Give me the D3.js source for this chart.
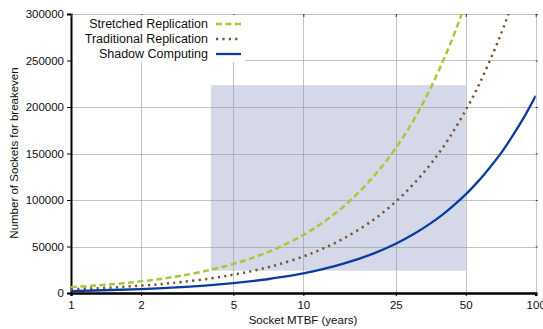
<!DOCTYPE html>
<html><head><meta charset="utf-8">
<script src="https://cdn.jsdelivr.net/npm/d3@7"></script>
<style>body{margin:0;background:#fff}svg{display:block;font-family:"Liberation Sans",Arial,sans-serif}</style>
</head><body><svg id="c" width="543" height="329"></svg>
<script>
const xTicks = [1, 2, 5, 10, 25, 50, 100];
const yTicks = [0, 50000, 100000, 150000, 200000, 250000, 300000];
const mtbf = [1, 1.5, 2, 2.5, 3, 4, 5, 6, 7, 8, 10, 12, 15, 20, 25, 30, 35, 40, 45, 50, 55, 60, 70, 80, 90, 100];
const shadowComputing = [2100, 3200, 4250, 5300, 6400, 8500, 10600, 12700, 14800, 17000, 21200, 25500, 31800, 42400, 53000, 63600, 74300, 84800, 95500, 106000, 116800, 127500, 148500, 170000, 191000, 212000];
const traditionalReplication = [3900, 5900, 7900, 9800, 11800, 15700, 19700, 23600, 27500, 31400, 39300, 47200, 59000, 78600, 98300, 118000, 137500, 157000, 177000, 196600, 216000, 236000, 275000, 314500, 354000, 393000];
const stretchedReplication = [6250, 9400, 12500, 15600, 18700, 25000, 31200, 37500, 43700, 50000, 62400, 75000, 93600, 125000, 156000, 187000, 218500, 250000, 281000, 312000, 343000, 374000, 437000, 500000, 562000, 624000];
const seriesNames = ["Stretched Replication", "Traditional Replication", "Shadow Computing"];
const shadedRegion = {x0: 4, x1: 50, y0: 24000, y1: 223500};

const svg = d3.select("#c");
const L = 71, R = 535.7, T = 14, B = 293;
const x = d3.scaleLog().domain([1, 100]).range([L, R]);
const y = d3.scaleLinear().domain([0, 300000]).range([B, T]);

svg.append("defs").append("clipPath").attr("id", "clip")
  .append("rect").attr("x", L).attr("y", T).attr("width", R - L).attr("height", B - T);

// shaded region
svg.append("rect")
  .attr("x", x(shadedRegion.x0)).attr("y", y(shadedRegion.y1))
  .attr("width", x(shadedRegion.x1) - x(shadedRegion.x0))
  .attr("height", y(shadedRegion.y0) - y(shadedRegion.y1))
  .attr("fill", "#d5d8e8");

// gridlines
const grid = svg.append("g").attr("stroke", "#999").attr("stroke-opacity", 0.6).attr("stroke-width", 1);
yTicks.filter(d => d > 0).forEach(d => grid.append("line").attr("x1", L).attr("x2", R).attr("y1", Math.round(y(d)) + 0.5).attr("y2", Math.round(y(d)) + 0.5));
xTicks.filter(d => d > 1).forEach(d => grid.append("line").attr("y1", T).attr("y2", B).attr("x1", Math.round(x(d)) + 0.5).attr("x2", Math.round(x(d)) + 0.5));

// axes
const yAxis = d3.axisLeft(y).tickValues(yTicks).tickFormat(d3.format("d")).tickSize(4).tickPadding(3);
const gy = svg.append("g").attr("transform", `translate(${L},0)`).call(yAxis);
gy.select(".domain").attr("stroke", "#000").attr("stroke-width", 2);
gy.selectAll("text").attr("font-size", "11.5px").attr("fill", "#111").style("font-family", "Liberation Sans, Arial, sans-serif");

const xAxis = d3.axisBottom(x).tickValues(xTicks).tickFormat(d3.format("d")).tickSize(3).tickPadding(5);
const gx = svg.append("g").attr("transform", `translate(0,${B})`).call(xAxis);
gx.select(".domain").attr("stroke", "#000").attr("stroke-width", 2.5);
gx.selectAll("text").attr("font-size", "11.5px").attr("fill", "#111").style("font-family", "Liberation Sans, Arial, sans-serif");

// top & right minor ticks
const gt = svg.append("g").attr("transform", `translate(0,${T})`).call(d3.axisTop(x).tickValues(xTicks).tickFormat("").tickSizeInner(-3).tickSizeOuter(0));
gt.select(".domain").remove();
gt.selectAll("line").attr("stroke", "#333");
const gr = svg.append("g").attr("transform", `translate(${R},0)`).call(d3.axisRight(y).tickValues(yTicks).tickFormat("").tickSizeInner(2).tickSizeOuter(0));
gr.select(".domain").remove();
gr.selectAll("line").attr("stroke", "#333");

// lines
const line = d3.line().x((d, i) => x(mtbf[i])).y(d => y(d)).curve(d3.curveCatmullRom.alpha(0.5));
const styles = [
  {data: stretchedReplication, color: "#a8c83a", dash: "6,3.5", width: 2.5},
  {data: traditionalReplication, color: "#7a5230", dash: "2.2,4.2", width: 2.5},
  {data: shadowComputing, color: "#0a3c9e", dash: null, width: 2.3}
];
const gl = svg.append("g").attr("clip-path", "url(#clip)");
styles.forEach(s => {
  gl.append("path").datum(s.data).attr("d", line).attr("fill", "none")
    .attr("stroke", s.color).attr("stroke-width", s.width)
    .attr("stroke-dasharray", s.dash);
});

// legend
const lg = svg.append("g");
lg.append("rect").attr("x", 73).attr("y", 15).attr("width", 172).attr("height", 47).attr("fill", "#fff");
seriesNames.forEach((n, i) => {
  const yy = 24 + i * 15;
  lg.append("text").attr("x", 208).attr("y", yy).attr("dy", "0.35em").attr("text-anchor", "end")
    .attr("font-size", "12.5px").attr("fill", "#111").text(n);
  lg.append("line").attr("x1", 216).attr("x2", 241).attr("y1", yy).attr("y2", yy)
    .attr("stroke", styles[i].color).attr("stroke-width", styles[i].width)
    .attr("stroke-dasharray", styles[i].dash);
});

// axis titles
svg.append("text").attr("x", 303).attr("y", 324).attr("text-anchor", "middle")
  .attr("font-size", "11.5px").attr("fill", "#111").text("Socket MTBF (years)");
svg.append("text").attr("transform", "translate(18,153) rotate(-90)").attr("text-anchor", "middle")
  .attr("font-size", "11.5px").attr("fill", "#111").text("Number of Sockets for breakeven");
</script></body></html>
